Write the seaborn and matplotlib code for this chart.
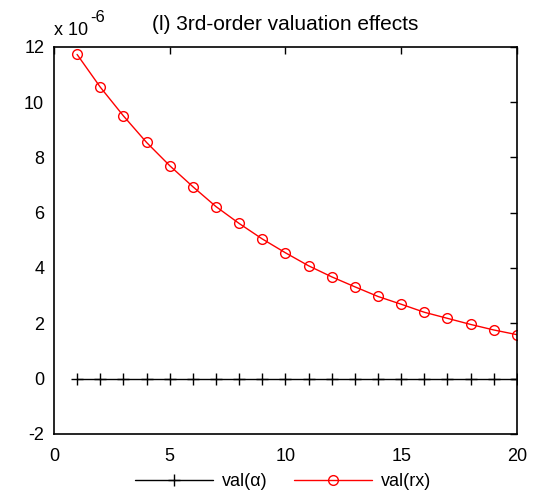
import matplotlib
matplotlib.use("Agg")
import matplotlib.pyplot as plt
import seaborn as sns
import pandas as pd

# Horizon (periods) and valuation effects, in units of 1e-6
periods = list(range(1, 21))
val_alpha = [0.0] * 20
val_rx = [11.72, 10.54, 9.50, 8.54, 7.70, 6.94, 6.22, 5.61, 5.05, 4.55,
          4.08, 3.68, 3.32, 2.97, 2.69, 2.40, 2.18, 1.96, 1.76, 1.59]

sns.set_theme(style="white")
plt.rcParams["font.family"] = ["Liberation Sans", "DejaVu Sans"]
plt.rcParams["axes.unicode_minus"] = False
plt.rcParams["text.color"] = "black"
plt.rcParams["axes.labelcolor"] = "black"

df = pd.DataFrame({"period": periods, "alpha": val_alpha, "rx": val_rx})

fig = plt.figure(figsize=(5.34, 4.94), dpi=100)
ax = fig.add_axes([0.101, 0.1215, 0.867, 0.784])

sns.lineplot(data=df, x="period", y="alpha", ax=ax, color="black",
             marker="+", markersize=8, markeredgecolor="black",
             markeredgewidth=1.0, linewidth=1.0, label="val(\u03b1)")
sns.lineplot(data=df, x="period", y="rx", ax=ax, color="red",
             marker="o", markersize=7, markerfacecolor="none",
             markeredgecolor="red", markeredgewidth=1.0, linewidth=1.0,
             label="val(rx)")

ax.set_xlim(0, 20)
ax.set_ylim(-2, 12)
ax.set_xticks([0, 5, 10, 15, 20])
ax.set_yticks([-2, 0, 2, 4, 6, 8, 10, 12])
ax.set_xlabel("")
ax.set_ylabel("")
ax.tick_params(direction="in", top=True, right=True, length=5, width=1.0,
               labelsize=13, colors="black", pad=7)
ax.tick_params(axis="x", pad=10)
for s in ax.spines.values():
    s.set_visible(True)
    s.set_color("black")
    s.set_linewidth(1.2)

ax.set_title("(l) 3rd-order valuation effects", fontsize=15, pad=12,
             color="black")

# Axis multiplier, MATLAB style
fig.text(54 / 534, 1 - 35 / 494, "x 10", fontsize=13, ha="left",
         va="baseline")
fig.text(90 / 534, 1 - 22 / 494, "-6", fontsize=12, ha="left",
         va="baseline")

handles, labels = ax.get_legend_handles_labels()
ax.get_legend().remove()
fig.legend(handles, labels, loc="lower center", ncol=2, frameon=False,
           fontsize=13, handlelength=4.3, numpoints=1,
           bbox_to_anchor=(0.53, -0.025), columnspacing=1.5,
           handletextpad=0.5)

fig.savefig("out.png", dpi=100, facecolor="white")
